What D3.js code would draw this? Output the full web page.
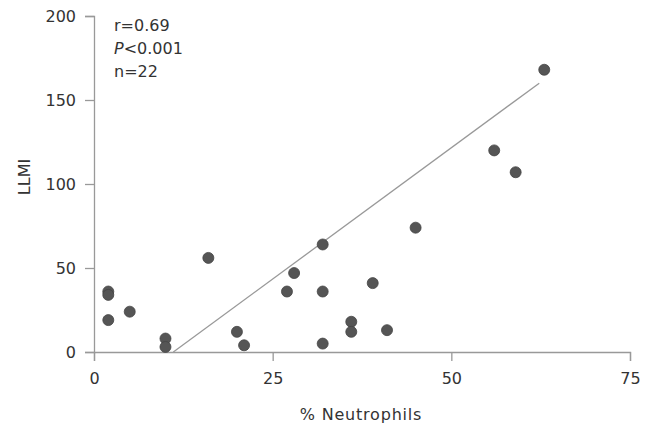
<!DOCTYPE html>
<html>
<head>
<meta charset="utf-8">
<script src="https://cdn.jsdelivr.net/npm/d3@7"></script>
<style>
  html, body { margin: 0; padding: 0; background: #fff; }
  svg { display: block; }
  text { font-family: "DejaVu Sans", sans-serif; fill: #333; }
</style>
</head>
<body>
<svg id="chart" width="653" height="428"></svg>
<script>
// Data
const neutrophils = [2, 2, 2, 5, 10, 10, 16, 20, 21, 27, 28, 32, 32, 32, 36, 36, 39, 41, 45, 56, 59, 63];
const llmi        = [36, 34, 19, 24, 8, 3, 56, 12, 4, 36, 47, 64, 36, 5, 18, 12, 41, 13, 74, 120, 107, 168];
const fitX = [11.1, 62.3];
const fitY = [0, 160];
const xTicks = [0, 25, 50, 75];
const yTicks = [0, 50, 100, 150, 200];
const stats = ["r=0.69", "P<0.001", "n=22"];

const svg = d3.select("#chart");
const x = d3.scaleLinear().domain([0, 75]).range([94, 630]);
const y = d3.scaleLinear().domain([0, 200]).range([352, 16]);

const axisColor = "#999";

const xAxis = svg.append("g")
  .attr("transform", `translate(0,${y(0)})`)
  .call(d3.axisBottom(x).tickValues(xTicks).tickSize(9).tickPadding(12).tickFormat(d3.format("d")));
const yAxis = svg.append("g")
  .attr("transform", `translate(${x(0)},0)`)
  .call(d3.axisLeft(y).tickValues(yTicks).tickSize(9).tickPadding(9).tickFormat(d3.format("d")));

[xAxis, yAxis].forEach(g => {
  g.select(".domain").attr("stroke", axisColor).attr("stroke-width", 1.3);
  g.selectAll(".tick line").attr("stroke", axisColor).attr("stroke-width", 1.3);
  g.selectAll(".tick text").attr("font-size", 16).attr("font-family", "DejaVu Sans, sans-serif").attr("fill", "#333");
});

// regression line
svg.append("line")
  .attr("x1", x(fitX[0])).attr("y1", y(fitY[0]))
  .attr("x2", x(fitX[1])).attr("y2", y(fitY[1]))
  .attr("stroke", "#999").attr("stroke-width", 1.3);

// points
svg.append("g").selectAll("circle")
  .data(neutrophils.map((v, i) => [v, llmi[i]]))
  .join("circle")
  .attr("cx", d => x(d[0]))
  .attr("cy", d => y(d[1]))
  .attr("r", 5.5)
  .attr("fill", "#555")
  .attr("stroke", "#444")
  .attr("stroke-width", 0.8);

// stats text
const st = svg.append("g").attr("font-size", 16);
st.append("text").attr("x", 114).attr("y", 31).text(stats[0]);
const p = st.append("text").attr("x", 114).attr("y", 54);
p.append("tspan").attr("font-style", "italic").text(stats[1].slice(0, 1));
p.append("tspan").text(stats[1].slice(1));
st.append("text").attr("x", 114).attr("y", 77).text(stats[2]);

// axis labels
svg.append("text")
  .attr("x", 361).attr("y", 420)
  .attr("text-anchor", "middle")
  .attr("font-size", 16)
  .attr("letter-spacing", 0.8)
  .text("% Neutrophils");

svg.append("text")
  .attr("transform", "translate(30,177) rotate(-90)")
  .attr("text-anchor", "middle")
  .attr("font-size", 16)
  .text("LLMI");
</script>
</body>
</html>
